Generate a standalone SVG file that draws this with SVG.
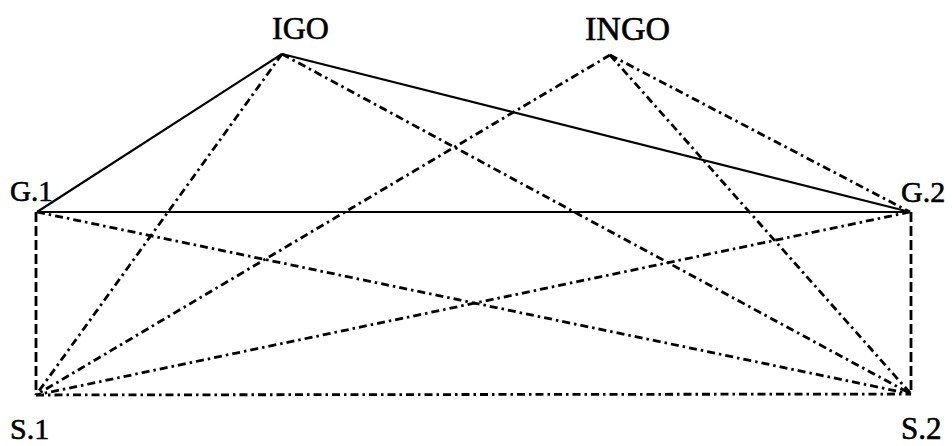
<svg xmlns="http://www.w3.org/2000/svg" width="952" height="446" viewBox="0 0 952 446">
<style>
.lbl{font-family:"Liberation Serif","Times New Roman",serif;fill:#000;stroke:#000;stroke-width:0.6}
.solid{stroke:#000;stroke-width:2.2;fill:none}
.dash{stroke:#000;stroke-width:2.8;fill:none;stroke-dasharray:10 4}
.dd{stroke:#000;stroke-width:2.8;fill:none;stroke-dasharray:8 4 2.5 4}
</style>
<rect width="952" height="446" fill="#fff"/>
<g id="connectors">
<line class="solid" x1="282" y1="54" x2="37" y2="212"/>
<line class="solid" x1="282" y1="54" x2="910" y2="212"/>
<line class="solid" x1="37" y1="212" x2="910" y2="212"/>
<line class="dash" x1="36" y1="212" x2="36" y2="395"/>
<line class="dash" x1="911" y1="212" x2="911" y2="394"/>
<line class="dd" x1="36" y1="395" x2="911" y2="394"/>
<line class="dd" x1="282" y1="54" x2="36" y2="395"/>
<line class="dd" x1="282" y1="54" x2="911" y2="394"/>
<line class="dd" x1="610" y1="55" x2="36" y2="395"/>
<line class="dd" x1="610" y1="55" x2="911" y2="394"/>
<line class="dd" x1="610" y1="55" x2="910" y2="212"/>
<line class="dd" x1="37" y1="212" x2="911" y2="394"/>
<line class="dd" x1="910" y1="212" x2="36" y2="395"/>
</g>
<g id="IGO"><text class="lbl" x="272" y="39" font-size="32">IGO</text></g>
<g id="INGO"><text class="lbl" x="585" y="40" font-size="34">INGO</text></g>
<g id="G1"><text class="lbl" x="10" y="201" font-size="29">G.1</text></g>
<g id="G2"><text class="lbl" x="901" y="202" font-size="30">G.2</text></g>
<g id="S1"><text class="lbl" x="10" y="439" font-size="30">S.1</text></g>
<g id="S2"><text class="lbl" x="901" y="439" font-size="31">S.2</text></g>
</svg>
